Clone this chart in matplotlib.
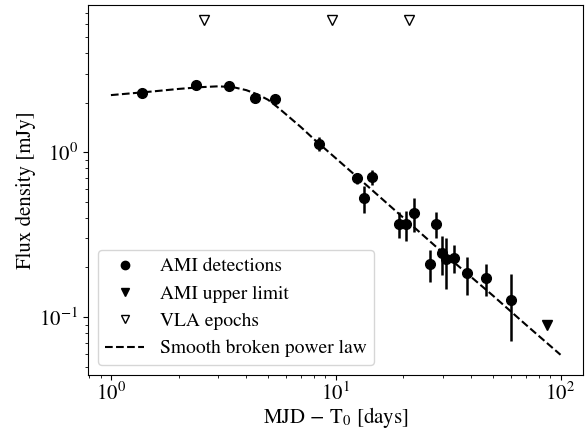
import numpy as np
import matplotlib
matplotlib.use("Agg")
import matplotlib.pyplot as plt
from matplotlib.lines import Line2D

plt.rcParams['font.family'] = 'serif'
plt.rcParams['font.serif'] = ['STIXGeneral', 'DejaVu Serif']
plt.rcParams['mathtext.fontset'] = 'stix'
plt.rcParams['font.size'] = 14

# AMI detections (days since T0, flux mJy, 1-sigma error)
ami_t = [1.37, 2.39, 3.34, 4.36, 5.35, 8.4, 12.4, 13.3, 14.5, 19.2, 20.5, 22.4,
         26.4, 27.8, 29.6, 30.8, 33.6, 38.5, 46.4, 60.5]
ami_f = [2.28, 2.55, 2.51, 2.12, 2.09, 1.12, 0.695, 0.526, 0.705, 0.366, 0.366, 0.427,
         0.209, 0.366, 0.244, 0.224, 0.229, 0.184, 0.172, 0.127]
ami_err = [0.05, 0.05, 0.05, 0.05, 0.05, 0.11, 0.05, 0.1, 0.075, 0.065, 0.075, 0.1,
           0.046, 0.065, 0.064, 0.077, 0.044, 0.048, 0.037, 0.055]

# AMI upper limit
ul_t = [86.7]
ul_f = [0.0895]

# VLA observation epochs
vla_t = [2.59, 9.6, 21.1]
vla_f = [6.3, 6.3, 6.3]

# smooth broken power law
mod_t = [1.0, 1.5, 2.0, 2.5, 3.0, 3.5, 4.0, 4.5, 5.0, 5.5, 6.0, 7.0, 8.0, 10.0,
         14.0, 20.0, 30.0, 50.0, 70.0, 100.0]
mod_f = [2.22, 2.33, 2.42, 2.48, 2.51, 2.48, 2.38, 2.24, 2.08, 1.88, 1.70, 1.42,
         1.20, 0.92, 0.615, 0.40, 0.245, 0.135, 0.09, 0.059]

fig = plt.figure(figsize=(5.86, 4.30), dpi=100)
ax = fig.add_axes([0.150, 0.128, 0.845, 0.860])

ax.errorbar(ami_t, ami_f, yerr=ami_err, fmt='o', color='k', ms=7,
            elinewidth=1.8, capsize=0)
ax.plot(ul_t, ul_f, 'v', color='k', ms=7, ls='none')
ax.plot(vla_t, vla_f, 'v', mfc='none', mec='k', mew=1.0, ms=7, ls='none')
ax.plot(mod_t, mod_f, '--', color='k', lw=1.5)

ax.set_xscale('log')
ax.set_yscale('log')
ax.set_xlim(0.79, 126)
ax.set_ylim(0.0445, 7.8)
ax.tick_params(labelsize=15)
ax.tick_params(axis='x', which='major', pad=2)

ax.set_xlabel(r'$\mathrm{MJD}\,-\,\mathrm{T}_0$ [days]', fontsize=15, labelpad=0)
ax.set_ylabel('Flux density [mJy]', fontsize=15, labelpad=2)

handles = [
    Line2D([], [], marker='o', color='k', ls='none', ms=6),
    Line2D([], [], marker='v', color='k', ls='none', ms=6),
    Line2D([], [], marker='v', mfc='none', mec='k', ls='none', ms=6),
    Line2D([], [], color='k', ls='--', lw=1.5),
]
labels = ['AMI detections', 'AMI upper limit', 'VLA epochs', 'Smooth broken power law']
ax.legend(handles, labels, loc='lower left', fontsize=14)

fig.savefig('out.png', dpi=100)
